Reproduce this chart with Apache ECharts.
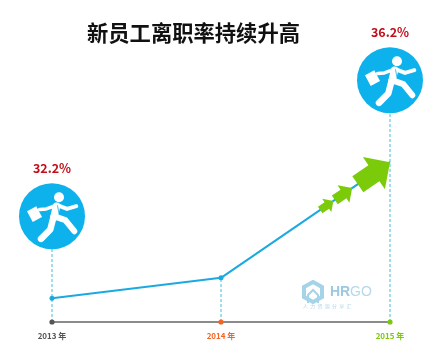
<!DOCTYPE html>
<html>
<head>
<meta charset="utf-8">
<style>html,body{margin:0;padding:0;background:#fff}#main{width:444px;height:360px}</style>
<script src="https://cdn.jsdelivr.net/npm/echarts@6/dist/echarts.min.js"></script>
</head>
<body>
<div id="main"></div>
<script>
/*------------数据------------分割线-----------------*/
var titleText = '新员工离职率持续升高';
var years = ['2013 年', '2014 年', '2015 年'];
var rates = [32.2, 32.8, 36.2];
var badgeYears = ['2013 年', '2015 年'];
var arrowFractions = [0.665, 0.776, 1];

/*------------样式------------分割线-----------------*/
var yMin = 31.5;
var yMax = 40;
var blue = '#0DB1EC';
var green = '#7CCB0A';
var yearColors = ['#555555', '#F26522', '#7CC80E'];
var arrowSizes = [16, 21, 39];
var badgeLift = 82;
var font = '"Noto Sans CJK SC", sans-serif';

/*------------小人图标---------分割线-----------------*/
function limb(x, y, points, width, color) {
	return {
		type: 'polyline',
		x: x,
		y: y,
		shape: { points: points },
		style: { stroke: color || '#fff', lineWidth: width, fill: null, lineCap: 'round', lineJoin: 'round' }
	};
}

function runner(x, y) {
	return [
		{ type: 'circle', shape: { cx: x, cy: y, r: 33 }, style: { fill: blue } },
		{ type: 'circle', shape: { cx: x + 7, cy: y - 19, r: 5 }, style: { fill: '#fff' } },
		limb(x, y, [[4.5, -10], [2, 1]], 7.5),
		limb(x, y, [[6, -10.8], [15, -7.3], [24.3, -10]], 4),
		limb(x, y, [[2, -10], [-5.7, -7.3], [-12.3, -6.7]], 3.5),
		limb(x, y, [[1.7, 0], [13.3, 4], [22.3, 15]], 6),
		limb(x, y, [[1.7, 0], [-1.7, 13.3], [-11, 22.7]], 6.5),
		limb(x, y, [[5.5, -10.5], [7, -3]], 0.8, blue),
		{
			type: 'polygon',
			x: x,
			y: y,
			shape: { points: [[-25, -5], [-15.7, -10], [-10, 0.7], [-19.3, 5.7]] },
			style: { fill: '#fff' }
		}
	];
}

/*------------自定义系列-------分割线-----------------*/
function renderDrop(params, api) {
	var i = api.value(0);
	var point = api.coord([i, api.value(1)]);
	var base = api.coord([i, yMin]);
	var hasBadge = badgeYears.indexOf(years[i]) > -1;
	var children = [{
		type: 'line',
		shape: { x1: point[0], y1: base[1], x2: point[0], y2: hasBadge ? point[1] - badgeLift + 33 : point[1] },
		style: { stroke: '#45BCDC', lineWidth: 1, lineDash: [3, 2] }
	}, {
		type: 'circle',
		shape: { cx: base[0], cy: base[1], r: 2.6 },
		style: { fill: yearColors[i] }
	}];
	return { type: 'group', children: children };
}

function renderBadge(params, api) {
	var i = api.value(0);
	if (badgeYears.indexOf(years[i]) < 0) {
		return null;
	}
	var point = api.coord([i, api.value(1)]);
	var cy = point[1] - badgeLift;
	var children = runner(point[0], cy);
	children.push({
		type: 'text',
		x: point[0],
		y: cy - 48,
		style: {
			text: api.value(1).toFixed(1) + '%',
			fill: '#C00D18',
			font: 'bold 12.5px ' + font,
			align: 'center',
			verticalAlign: 'middle'
		}
	});
	return { type: 'group', children: children };
}

// 绿色箭头沿最后一段折线排列
function renderArrow(params, api) {
	var last = rates.length - 1;
	var a = api.coord([last - 1, rates[last - 1]]);
	var b = api.coord([last, rates[last]]);
	var f = api.value(0);
	var s = arrowSizes[params.dataIndex];
	var tipX = a[0] + (b[0] - a[0]) * f;
	var tipY = a[1] + (b[1] - a[1]) * f;
	var angle = Math.atan2(b[1] - a[1], b[0] - a[0]);
	return {
		type: 'polygon',
		x: tipX,
		y: tipY,
		rotation: -angle,
		shape: {
			points: [
				[0, 0],
				[-s / 2, -s / 2],
				[-s / 2, -s / 4],
				[-s, -s / 4],
				[-s, s / 4],
				[-s / 2, s / 4],
				[-s / 2, s / 2]
			]
		},
		style: { fill: green }
	};
}

/*-------------echarts设置-------分割线---------------*/
var chart = echarts.init(document.getElementById('main'));
chart.setOption({
	backgroundColor: '#fff',
	animation: false,
	title: {
		text: titleText,
		left: 87,
		top: 22,
		padding: 0,
		textStyle: { fontFamily: font, fontSize: 21.3, fontWeight: 'bold', color: '#111' }
	},
	grid: { left: 52, right: 54, top: 33, bottom: 38 },
	xAxis: {
		type: 'category',
		data: years,
		boundaryGap: false,
		axisTick: { show: false },
		axisLine: { lineStyle: { color: '#666', width: 1.5 } },
		axisLabel: {
			interval: 0,
			margin: 10,
			fontFamily: font,
			fontSize: 8,
			fontWeight: 'bold',
			color: function (value) {
				return yearColors[years.indexOf(value)];
			}
		}
	},
	yAxis: { type: 'value', min: yMin, max: yMax, show: false },
	series: [{
		type: 'custom',
		z: 1,
		renderItem: renderDrop,
		data: years.map(function (y, i) { return [i, rates[i]]; })
	}, {
		type: 'line',
		z: 2,
		data: rates,
		symbol: function (value, params) {
			return params.dataIndex === rates.length - 1 ? 'none' : 'circle';
		},
		symbolSize: 5,
		showAllSymbol: true,
		lineStyle: { color: '#1BA9E1', width: 2 },
		itemStyle: { color: '#1BA9E1' }
	}, {
		type: 'custom',
		z: 3,
		renderItem: renderArrow,
		data: arrowFractions.map(function (f) { return [f]; })
	}, {
		type: 'custom',
		z: 4,
		renderItem: renderBadge,
		data: years.map(function (y, i) { return [i, rates[i]]; })
	}],
	// 水印
	graphic: [{
		type: 'polygon',
		shape: { points: [[313, 282], [322, 287], [322, 297], [313, 302], [304, 297], [304, 287]] },
		style: { fill: 'none', stroke: '#A5D3E8', lineWidth: 4 }
	}, {
		type: 'polyline',
		shape: { points: [[308, 303], [308, 295], [313, 290], [318, 295], [318, 303]] },
		style: { fill: 'none', stroke: '#A5D3E8', lineWidth: 2 }
	}, {
		type: 'text',
		x: 330,
		y: 292,
		style: {
			text: 'HR',
			fill: '#9CC8E0',
			font: 'bold 14px "Liberation Sans", sans-serif',
			verticalAlign: 'middle'
		}
	}, {
		type: 'text',
		x: 350,
		y: 292,
		style: {
			text: 'GO',
			fill: '#B5D8EA',
			font: '14px "Liberation Sans", sans-serif',
			verticalAlign: 'middle'
		}
	}, {
		type: 'text',
		x: 303,
		y: 306,
		style: {
			text: '人  力  资  源  分  享  汇',
			fill: '#B5D8EA',
			font: '5px ' + font,
			verticalAlign: 'middle'
		}
	}]
});
</script>
</body>
</html>
